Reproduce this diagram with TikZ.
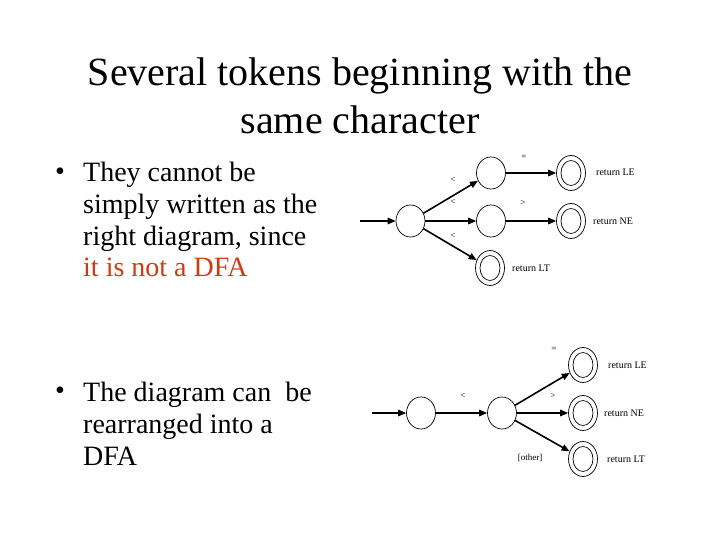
\documentclass[tikz,border=0pt]{standalone}
\usepackage{fontspec}
\setmainfont{Liberation Serif}
\usetikzlibrary{arrows.meta,shapes.geometric}
\definecolor{redtext}{RGB}{204,60,20}
\tikzset{
  st/.style={draw,ellipse,line width=0.7pt,minimum width=29pt,minimum height=32pt,inner sep=0pt},
  acc/.style={draw,ellipse,line width=0.7pt,minimum width=29pt,minimum height=35pt,inner sep=0pt,
    path picture={\draw[line width=0.7pt] (path picture bounding box.center) ellipse (10pt and 12.5pt);}},
  tr/.style={line width=1.6pt,-{Triangle[length=8pt,width=6.5pt]}},
  lbl/.style={font=\fontsize{9}{10}\selectfont,inner sep=0pt},
  ret/.style={font=\fontsize{10}{11}\selectfont,inner sep=0pt,anchor=west},
  ttl/.style={font=\fontsize{40}{48}\selectfont,inner sep=0pt,anchor=base},
  txt/.style={font=\fontsize{28}{32}\selectfont,inner sep=0pt,anchor=base west},
  bul/.style={font=\fontsize{28}{32}\selectfont,inner sep=0pt}
}
\begin{document}
\begin{tikzpicture}[x=1pt,y=-1pt]
\useasboundingbox (0,0) rectangle (720,540);
% title
\node[ttl] (t1) at (360,86) {Several tokens beginning with the};
\node[ttl] (t2) at (360,134) {same character};
% bullets
\node[bul] (b1) at (60,174) {\textbullet};
\node[txt] (l1) at (83,182) {They cannot be};
\node[txt] (l2) at (83,213.5) {simply written as the};
\node[txt] (l3) at (83,245) {right diagram, since};
\node[txt,text=redtext] (l4) at (83,276) {it is not a DFA};
\node[bul] (b2) at (60,393) {\textbullet};
\node[txt] (m1) at (83,401.5) {The diagram can\ \ be};
\node[txt] (m2) at (83,433.5) {rearranged into a};
\node[txt] (m3) at (83,465.5) {DFA};
% top diagram
\coordinate (s1) at (360,221);
\node[st] (A) at (410.5,221) {};
\node[st] (B) at (491,173) {};
\node[st] (C) at (491,221) {};
\node[acc] (D) at (490,268) {};
\node[acc] (E) at (571,173) {};
\node[acc] (F) at (571,221) {};
\draw[tr] (s1) -- (A);
\draw[tr] (A) -- (B);
\draw[tr] (A) -- (C);
\draw[tr] (A) -- (D);
\draw[tr] (B) -- (E);
\draw[tr] (C) -- (F);
\node[lbl] (q1) at (453,180) {<};
\node[lbl] (q2) at (453,202) {<};
\node[lbl] (q3) at (453,236) {<};
\node[lbl] (q4) at (524,157) {=};
\node[lbl] (q5) at (523,203) {>};
\node[ret] (r1) at (596,172) {return LE};
\node[ret] (r2) at (593,221) {return NE};
\node[ret] (r3) at (512,268) {return LT};
% bottom diagram
\coordinate (s2) at (372,413);
\node[st] (G) at (421,413) {};
\node[st] (H) at (502,413) {};
\node[acc] (I) at (583,365) {};
\node[acc] (J) at (583,413) {};
\node[acc] (K) at (583,459) {};
\draw[tr] (s2) -- (G);
\draw[tr] (G) -- (H);
\draw[tr] (H) -- (I);
\draw[tr] (H) -- (J);
\draw[tr] (H) -- (K);
\node[lbl] (p1) at (463,396) {<};
\node[lbl] (p2) at (554,349) {=};
\node[lbl] (p3) at (553,396) {>};
\node[lbl] (p4) at (530,458) {[other]};
\node[ret] (u1) at (608,365) {return LE};
\node[ret] (u2) at (604,413) {return NE};
\node[ret] (u3) at (607,459) {return LT};
\end{tikzpicture}
\end{document}
